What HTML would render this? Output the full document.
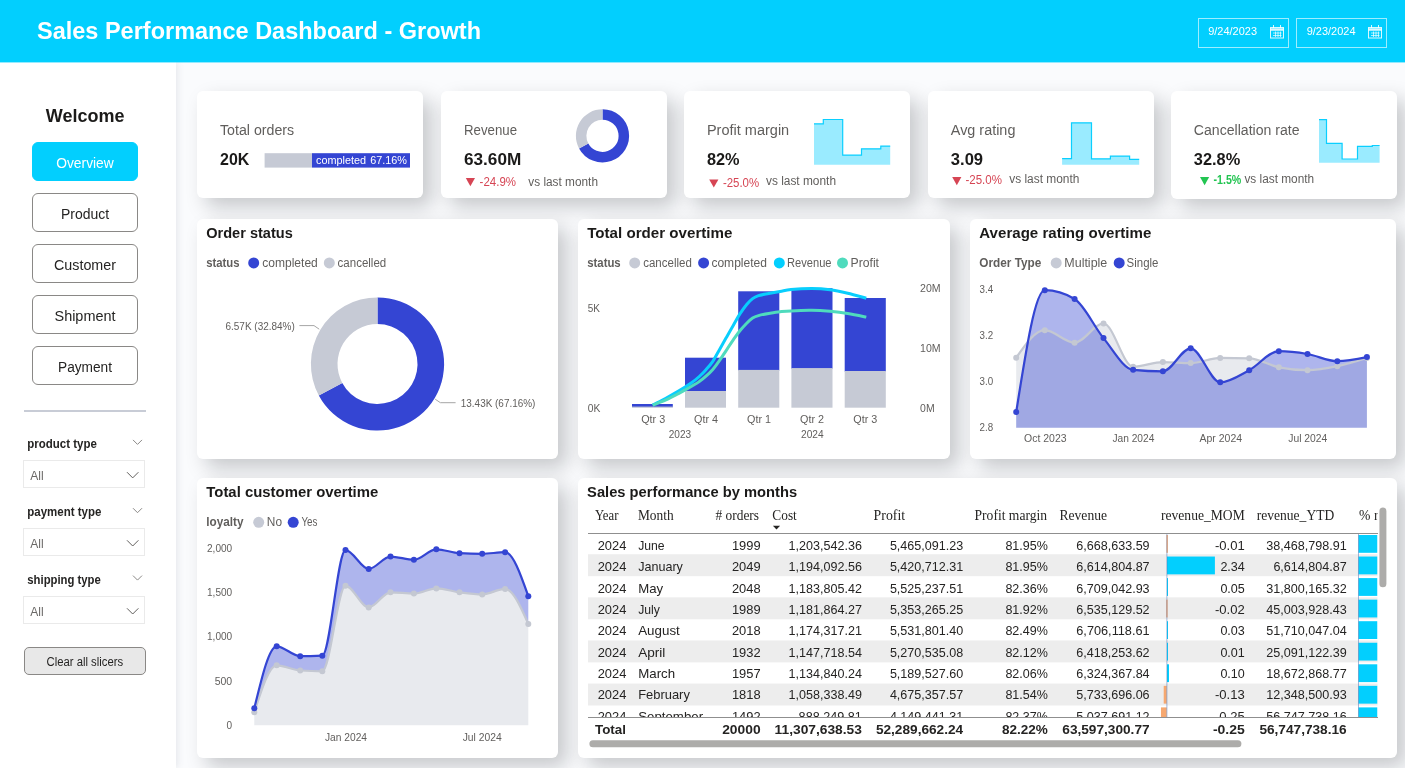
<!DOCTYPE html><html><head><meta charset="utf-8"><title>Sales Performance Dashboard - Growth</title><style>
*{box-sizing:border-box;margin:0;padding:0}
html,body{width:1405px;height:768px;overflow:hidden;background:#fafbfd;font-family:"Liberation Sans",sans-serif;color:#252423}
.abs{position:absolute}
#hdr{left:0;top:0;width:1405px;height:62px;background:#02cffe;z-index:2}
#side{left:0;top:62px;width:176px;height:706px;background:#fff;box-shadow:2px 0 6px rgba(100,105,120,.12)}
.card{position:absolute;background:#fff;border-radius:6px;box-shadow:9px 9px 20px rgba(10,12,20,.21)}
.btn{position:absolute;left:32px;width:106px;height:39px;border:1px solid #8a8886;border-radius:6px;background:#fff}
.btn.on{background:#02cffe;border-color:#02cffe;height:39px}
.dd{position:absolute;left:23px;width:122px;height:28px;border:1px solid #eaeaea;background:#fff}
#ov{position:absolute;left:0;top:0;overflow:visible;will-change:transform;z-index:3}
#ov text{font-family:"Liberation Sans",sans-serif;white-space:pre}
#ov text.sf{font-family:"Liberation Serif",serif}
</style></head><body>
<div id="hdr" class="abs"></div>
<div id="side" class="abs"></div>
<div class="abs" style="left:0;top:62px;width:1405px;height:1px;background:rgba(2,207,254,.42);z-index:2"></div>
<div class="abs" style="left:1197.5px;top:18px;width:91.5px;height:29.500px;border:1px solid rgba(255,255,255,.62);z-index:2"></div>
<div class="abs" style="left:1296px;top:18px;width:91px;height:29.500px;border:1px solid rgba(255,255,255,.62);z-index:2"></div>
<div class="btn on" style="top:142px"></div>
<div class="btn" style="top:193px"></div>
<div class="btn" style="top:244px"></div>
<div class="btn" style="top:295px"></div>
<div class="btn" style="top:346px"></div>
<div class="abs" style="left:24px;top:410px;width:122px;height:2px;background:#c8ccd6"></div>
<div class="dd" style="top:460px"></div>
<div class="dd" style="top:528px"></div>
<div class="dd" style="top:596px"></div>
<div class="abs" style="left:24px;top:647px;width:122px;height:28px;border:1px solid #8a8886;border-radius:5px;background:#e8e8e8"></div>
<div class="card" style="left:197px;top:91px;width:225.7px;height:107px"></div>
<div class="card" style="left:440.8px;top:91px;width:225.8px;height:107px"></div>
<div class="card" style="left:684.2px;top:91px;width:225.6px;height:107px"></div>
<div class="card" style="left:928px;top:91px;width:225.7px;height:107px"></div>
<div class="card" style="left:1171.25px;top:91px;width:225.5px;height:108px"></div>
<div class="card" style="left:197px;top:219px;width:361px;height:240px"></div>
<div class="card" style="left:578px;top:219px;width:372px;height:240px"></div>
<div class="card" style="left:970px;top:219px;width:426px;height:240px"></div>
<div class="card" style="left:197px;top:478px;width:361px;height:279.5px"></div>
<div class="card" style="left:578px;top:478px;width:819px;height:279.5px"></div>
<svg id="ov" width="1405" height="768" viewBox="0 0 1405 768"><text x="37" y="39.2" font-size="24" fill="#fff" font-weight="bold" textLength="444" lengthAdjust="spacingAndGlyphs">Sales Performance Dashboard - Growth</text>
<text x="1208.2" y="35.2" font-size="11" fill="#fff" textLength="48.8" lengthAdjust="spacingAndGlyphs">9/24/2023</text>
<g transform="translate(1270,25)" fill="none" stroke="#fff" stroke-opacity=".85"><rect x=".5" y="2.500" width="13" height="10.500"/><path d="M.5 4.500h13" stroke-width="2.500"/><path d="M3.500 0v3M10.500 0v3"/><path d="M3 8h8.500M3 10.500h8.500M5.500 6.500v5.500M8 6.500v5.500M10.500 6.500v5.500" stroke-opacity=".75" stroke-width=".9"/></g>
<text x="1306.7" y="35.2" font-size="11" fill="#fff" textLength="48.8" lengthAdjust="spacingAndGlyphs">9/23/2024</text>
<g transform="translate(1368,25)" fill="none" stroke="#fff" stroke-opacity=".85"><rect x=".5" y="2.500" width="13" height="10.500"/><path d="M.5 4.500h13" stroke-width="2.500"/><path d="M3.500 0v3M10.500 0v3"/><path d="M3 8h8.500M3 10.500h8.500M5.500 6.500v5.500M8 6.500v5.500M10.500 6.500v5.500" stroke-opacity=".75" stroke-width=".9"/></g>
<text x="85.2" y="122.3" font-size="18.67" fill="#1b1a19" font-weight="bold" text-anchor="middle" textLength="78.7" lengthAdjust="spacingAndGlyphs">Welcome</text>
<text x="85" y="167.6" font-size="14.67" fill="#fff" text-anchor="middle" textLength="57.6" lengthAdjust="spacingAndGlyphs">Overview</text>
<text x="85" y="218.6" font-size="14.67" fill="#252423" text-anchor="middle" textLength="48.2" lengthAdjust="spacingAndGlyphs">Product</text>
<text x="85" y="269.6" font-size="14.67" fill="#252423" text-anchor="middle" textLength="62" lengthAdjust="spacingAndGlyphs">Customer</text>
<text x="85" y="320.6" font-size="14.67" fill="#252423" text-anchor="middle" textLength="61" lengthAdjust="spacingAndGlyphs">Shipment</text>
<text x="85" y="371.6" font-size="14.67" fill="#252423" text-anchor="middle" textLength="54" lengthAdjust="spacingAndGlyphs">Payment</text>
<text x="27.3" y="447.9" font-size="12" fill="#252423" font-weight="bold" textLength="69.5" lengthAdjust="spacingAndGlyphs">product type</text>
<path d="M133,439.9l4.500 4.500 4.500-4.500" fill="none" stroke="#8a8886" stroke-width="1"/>
<text x="30.2" y="480" font-size="12.5" fill="#6b6967" textLength="13.4" lengthAdjust="spacingAndGlyphs">All</text>
<path d="M127,472.2l5.700 5.700 5.700-5.700" fill="none" stroke="#605e5c" stroke-width="1"/>
<text x="27.3" y="516.2" font-size="12" fill="#252423" font-weight="bold" textLength="74" lengthAdjust="spacingAndGlyphs">payment type</text>
<path d="M133,508.20000000000005l4.500 4.500 4.500-4.500" fill="none" stroke="#8a8886" stroke-width="1"/>
<text x="30.2" y="548.2" font-size="12.5" fill="#6b6967" textLength="13.4" lengthAdjust="spacingAndGlyphs">All</text>
<path d="M127,540.3l5.700 5.700 5.700-5.700" fill="none" stroke="#605e5c" stroke-width="1"/>
<text x="27.3" y="583.6" font-size="12" fill="#252423" font-weight="bold" textLength="73.5" lengthAdjust="spacingAndGlyphs">shipping type</text>
<path d="M133,575.6l4.500 4.500 4.500-4.500" fill="none" stroke="#8a8886" stroke-width="1"/>
<text x="30.2" y="616.2" font-size="12.5" fill="#6b6967" textLength="13.4" lengthAdjust="spacingAndGlyphs">All</text>
<path d="M127,608.3l5.700 5.700 5.700-5.700" fill="none" stroke="#605e5c" stroke-width="1"/>
<text x="84.8" y="665.5" font-size="12" fill="#252423" text-anchor="middle" textLength="76.6" lengthAdjust="spacingAndGlyphs">Clear all slicers</text>
<text x="220" y="135.2" font-size="14.67" fill="#605e5c" textLength="74.2" lengthAdjust="spacingAndGlyphs">Total orders</text>
<text x="220" y="164.8" font-size="17.33" fill="#1b1a19" font-weight="bold" textLength="29.3" lengthAdjust="spacingAndGlyphs">20K</text>
<rect x="264.600" y="153.200" width="47.500" height="14.400" fill="#c6cad5"/><rect x="312" y="153.200" width="98" height="14.400" fill="#3445d3"/>
<text x="316" y="164.3" font-size="11" fill="#fff" textLength="91" lengthAdjust="spacingAndGlyphs" word-spacing="1">completed 67.16%</text>
<text x="464" y="135.2" font-size="14.67" fill="#605e5c" textLength="53" lengthAdjust="spacingAndGlyphs">Revenue</text>
<text x="464" y="164.8" font-size="17.33" fill="#1b1a19" font-weight="bold" textLength="57.3" lengthAdjust="spacingAndGlyphs">63.60M</text>
<path d="M465.8,178h9.2l-4.6,8.2z" fill="#d64554"/>
<text x="479.6" y="186.3" font-size="12" fill="#d64554" textLength="36.4" lengthAdjust="spacingAndGlyphs">-24.9%</text>
<text x="528.3" y="186.3" font-size="12" fill="#605e5c" textLength="69.7" lengthAdjust="spacingAndGlyphs">vs last month</text>
<path d="M602.50,109.20A26.6,26.6 0 1 1 579.06,148.38L588.31,143.41A16.1,16.1 0 1 0 602.50,119.70Z" fill="#3445d3"/><path d="M579.06,148.38A26.6,26.6 0 0 1 602.50,109.20L602.50,119.70A16.1,16.1 0 0 0 588.31,143.41Z" fill="#c6cad5"/>
<text x="706.9" y="135.2" font-size="14.67" fill="#605e5c" textLength="82.3" lengthAdjust="spacingAndGlyphs">Profit margin</text>
<text x="707" y="164.8" font-size="17.33" fill="#1b1a19" font-weight="bold" textLength="32.6" lengthAdjust="spacingAndGlyphs">82%</text>
<path d="M709.2,179.4h9.2l-4.6,8.2z" fill="#d64554"/>
<text x="722.9" y="186.7" font-size="12" fill="#d64554" textLength="36.2" lengthAdjust="spacingAndGlyphs">-25.0%</text>
<text x="766" y="184.8" font-size="12" fill="#605e5c" textLength="70" lengthAdjust="spacingAndGlyphs">vs last month</text>
<path d="M814,123.8H823.3V119.5H842.7V155.1H861.5V148.8H880.8V146.1H890.2V164.8H814Z" fill="#9aebff"/><path d="M814,123.8H823.3V119.5H842.7V155.1H861.5V148.8H880.8V146.1H890.2" fill="none" stroke="#0acfff" stroke-width="1.200"/>
<text x="950.8" y="135.2" font-size="14.67" fill="#605e5c" textLength="64.6" lengthAdjust="spacingAndGlyphs">Avg rating</text>
<text x="950.8" y="164.8" font-size="17.33" fill="#1b1a19" font-weight="bold" textLength="32.3" lengthAdjust="spacingAndGlyphs">3.09</text>
<path d="M952.2,177h9.2l-4.6,8.2z" fill="#d64554"/>
<text x="965.4" y="184.2" font-size="12" fill="#d64554" textLength="36.5" lengthAdjust="spacingAndGlyphs">-25.0%</text>
<text x="1009.2" y="182.7" font-size="12" fill="#605e5c" textLength="70.2" lengthAdjust="spacingAndGlyphs">vs last month</text>
<path d="M1062.1,158.6H1071.5V122.8H1091.5V158.8H1110.4V156.1H1129.6V159.3H1139.2V164.8H1062.1Z" fill="#9aebff"/><path d="M1062.1,158.6H1071.5V122.8H1091.5V158.8H1110.4V156.1H1129.6V159.3H1139.2" fill="none" stroke="#0acfff" stroke-width="1.200"/>
<text x="1193.8" y="135.2" font-size="14.67" fill="#605e5c" textLength="105.8" lengthAdjust="spacingAndGlyphs">Cancellation rate</text>
<text x="1193.8" y="164.8" font-size="17.33" fill="#1b1a19" font-weight="bold" textLength="46.4" lengthAdjust="spacingAndGlyphs">32.8%</text>
<path d="M1200,177h9.2l-4.6,8.2z" fill="#23c552"/>
<text x="1213.5" y="184.2" font-size="12" fill="#23c552" font-weight="bold" textLength="27.8" lengthAdjust="spacingAndGlyphs">-1.5%</text>
<text x="1244.4" y="182.7" font-size="12" fill="#605e5c" textLength="69.8" lengthAdjust="spacingAndGlyphs">vs last month</text>
<path d="M1319,119.7H1326.5V143.4H1342.1V159H1357.5V146.3H1372.3V145.5H1379.6V162.7H1319Z" fill="#9aebff"/><path d="M1319,119.7H1326.5V143.4H1342.1V159H1357.5V146.3H1372.3V145.5H1379.6" fill="none" stroke="#0acfff" stroke-width="1.200"/>
<text x="206.2" y="237.5" font-size="14.67" fill="#1b1a19" font-weight="bold" textLength="86.6" lengthAdjust="spacingAndGlyphs">Order status</text>
<text x="206.2" y="266.6" font-size="12" fill="#605e5c" font-weight="bold" textLength="33.3" lengthAdjust="spacingAndGlyphs">status</text>
<circle cx="253.7" cy="262.9" r="5.500" fill="#3445d3"/>
<text x="262.2" y="266.6" font-size="12" fill="#605e5c" textLength="55.6" lengthAdjust="spacingAndGlyphs">completed</text>
<circle cx="329.3" cy="262.9" r="5.500" fill="#c6cad5"/>
<text x="337.6" y="266.6" font-size="12" fill="#605e5c" textLength="48.6" lengthAdjust="spacingAndGlyphs">cancelled</text>
<path d="M377.50,297.40A66.6,66.6 0 1 1 318.82,395.50L342.26,382.92A40,40 0 1 0 377.50,324.00Z" fill="#3445d3"/><path d="M318.82,395.50A66.6,66.6 0 0 1 377.50,297.40L377.50,324.00A40,40 0 0 0 342.26,382.92Z" fill="#c6cad5"/>
<text x="225.5" y="330.4" font-size="11" fill="#605e5c" textLength="69.3" lengthAdjust="spacingAndGlyphs">6.57K (32.84%)</text>
<text x="460.8" y="407.3" font-size="11" fill="#605e5c" textLength="74.6" lengthAdjust="spacingAndGlyphs">13.43K (67.16%)</text>
<path d="M299.400,325.600H314L319.200,329.200M435.200,399.200L440.400,402.700H455.600" fill="none" stroke="#a6a6a6" stroke-width="1"/>
<text x="587.2" y="237.5" font-size="14.67" fill="#1b1a19" font-weight="bold" textLength="145.2" lengthAdjust="spacingAndGlyphs">Total order overtime</text>
<text x="587.2" y="266.6" font-size="12" fill="#605e5c" font-weight="bold" textLength="33.5" lengthAdjust="spacingAndGlyphs">status</text>
<circle cx="634.7" cy="262.9" r="5.500" fill="#c6cad5"/>
<text x="643.2" y="266.6" font-size="12" fill="#605e5c" textLength="48.6" lengthAdjust="spacingAndGlyphs">cancelled</text>
<circle cx="703.6" cy="262.9" r="5.500" fill="#3445d3"/>
<text x="711.4" y="266.6" font-size="12" fill="#605e5c" textLength="55.6" lengthAdjust="spacingAndGlyphs">completed</text>
<circle cx="779.3" cy="262.9" r="5.500" fill="#02cffe"/>
<text x="787" y="266.6" font-size="12" fill="#605e5c" textLength="44.5" lengthAdjust="spacingAndGlyphs">Revenue</text>
<circle cx="842.5" cy="262.9" r="5.500" fill="#4fdbbd"/>
<text x="850.5" y="266.6" font-size="12" fill="#605e5c" textLength="28.5" lengthAdjust="spacingAndGlyphs">Profit</text>
<rect x="632" y="404" width="40.8" height="3.2" fill="#3445d3"/><rect x="632" y="406.6" width="40.8" height="1.1" fill="#c6cad5"/>
<rect x="685" y="357.7" width="41" height="33.9" fill="#3445d3"/><rect x="685" y="391" width="41" height="16.7" fill="#c6cad5"/>
<rect x="738.2" y="291.3" width="41.1" height="79.2" fill="#3445d3"/><rect x="738.2" y="369.9" width="41.1" height="37.8" fill="#c6cad5"/>
<rect x="791.4" y="288.2" width="41.1" height="80.5" fill="#3445d3"/><rect x="791.4" y="368.1" width="41.1" height="39.6" fill="#c6cad5"/>
<rect x="844.7" y="298" width="41.1" height="73.6" fill="#3445d3"/><rect x="844.7" y="371" width="41.1" height="36.7" fill="#c6cad5"/>
<path d="M652.7,404.9C654.8,403.8 661.0,400.8 665.4,398.5C669.8,396.2 674.7,393.4 678.9,390.9C683.1,388.4 687.4,385.7 690.8,383.3C694.2,380.9 696.8,378.8 699.3,376.5C701.8,374.2 703.8,372.2 706.0,369.7C708.2,367.2 710.5,364.7 712.8,361.3C715.1,357.9 717.4,353.3 719.6,349.4C721.9,345.4 724.0,341.6 726.3,337.6C728.5,333.7 730.8,329.6 733.1,325.7C735.4,321.8 737.6,317.4 739.9,313.9C742.2,310.4 744.6,307.1 746.7,304.5C748.8,301.9 750.6,300.1 752.6,298.6C754.6,297.1 755.8,296.5 758.5,295.6C761.2,294.8 765.1,294.2 768.7,293.5C772.3,292.8 776.3,292.1 780.0,291.5C783.7,290.9 785.7,290.1 791.0,289.6C796.3,289.1 805.1,288.6 811.6,288.6C818.1,288.6 824.1,289.0 830.1,289.8C836.1,290.6 841.7,291.9 847.7,293.3C853.7,294.7 863.2,297.4 866.3,298.2" fill="none" stroke="#08cefd" stroke-width="3"/>
<path d="M652.7,405.3C654.8,404.4 661.0,402.2 665.4,400.2C669.8,398.2 674.7,395.6 678.9,393.4C683.1,391.1 687.4,388.7 690.8,386.7C694.2,384.7 696.8,383.4 699.3,381.6C701.8,379.9 703.8,378.2 706.0,376.2C708.2,374.2 710.5,372.0 712.8,369.4C715.1,366.8 717.4,363.6 719.6,360.4C721.9,357.2 724.0,353.7 726.3,350.3C728.5,346.9 730.8,343.4 733.1,340.1C735.4,336.9 737.6,333.6 739.9,330.8C742.2,328.0 744.6,325.3 746.7,323.2C748.8,321.1 750.6,319.4 752.6,318.1C754.6,316.8 755.8,316.4 758.5,315.6C761.2,314.8 765.1,314.1 768.7,313.5C772.3,312.9 776.3,312.2 780.0,311.8C783.7,311.4 785.7,311.1 791.0,310.9C796.3,310.6 805.1,310.2 811.6,310.3C818.1,310.4 824.1,310.8 830.1,311.3C836.1,311.9 841.7,312.6 847.7,313.6C853.7,314.6 863.2,316.5 866.3,317.1" fill="none" stroke="#4fdbbd" stroke-width="3"/>
<text x="587.7" y="312" font-size="11" fill="#605e5c" textLength="12.2" lengthAdjust="spacingAndGlyphs">5K</text>
<text x="587.7" y="412" font-size="11" fill="#605e5c" textLength="12.6" lengthAdjust="spacingAndGlyphs">0K</text>
<text x="920.1" y="292.2" font-size="11" fill="#605e5c" textLength="20.6" lengthAdjust="spacingAndGlyphs">20M</text>
<text x="920.1" y="352.2" font-size="11" fill="#605e5c" textLength="20.6" lengthAdjust="spacingAndGlyphs">10M</text>
<text x="920.1" y="412.3" font-size="11" fill="#605e5c" textLength="14.5" lengthAdjust="spacingAndGlyphs">0M</text>
<text x="653.2" y="423" font-size="11" fill="#605e5c" text-anchor="middle" textLength="24" lengthAdjust="spacingAndGlyphs">Qtr 3</text>
<text x="706" y="423" font-size="11" fill="#605e5c" text-anchor="middle" textLength="24" lengthAdjust="spacingAndGlyphs">Qtr 4</text>
<text x="759" y="423" font-size="11" fill="#605e5c" text-anchor="middle" textLength="24" lengthAdjust="spacingAndGlyphs">Qtr 1</text>
<text x="812" y="423" font-size="11" fill="#605e5c" text-anchor="middle" textLength="24" lengthAdjust="spacingAndGlyphs">Qtr 2</text>
<text x="865.3" y="423" font-size="11" fill="#605e5c" text-anchor="middle" textLength="24" lengthAdjust="spacingAndGlyphs">Qtr 3</text>
<text x="679.9" y="437.7" font-size="11" fill="#605e5c" text-anchor="middle" textLength="22.4" lengthAdjust="spacingAndGlyphs">2023</text>
<text x="812.3" y="437.7" font-size="11" fill="#605e5c" text-anchor="middle" textLength="22.6" lengthAdjust="spacingAndGlyphs">2024</text>
<text x="979.3" y="237.5" font-size="14.67" fill="#1b1a19" font-weight="bold" textLength="172" lengthAdjust="spacingAndGlyphs">Average rating overtime</text>
<text x="979.3" y="266.6" font-size="12" fill="#605e5c" font-weight="bold" textLength="62" lengthAdjust="spacingAndGlyphs">Order Type</text>
<circle cx="1056.2" cy="262.9" r="5.500" fill="#c6cad5"/>
<text x="1064.3" y="266.6" font-size="12" fill="#605e5c" textLength="43" lengthAdjust="spacingAndGlyphs">Multiple</text>
<circle cx="1119.2" cy="262.9" r="5.500" fill="#3445d3"/>
<text x="1126.6" y="266.6" font-size="12" fill="#605e5c" textLength="31.8" lengthAdjust="spacingAndGlyphs">Single</text>
<path d="M1016.2,357.7C1025.8,343.9 1035.3,330.2 1044.8,330.2C1054.7,330.2 1064.7,342.7 1074.6,342.7C1084.2,342.7 1093.9,323.5 1103.5,323.5C1113.4,323.5 1123.2,366.7 1133.1,366.7C1143.0,366.7 1153.0,362.1 1162.9,362.1C1172.2,362.1 1181.4,363.1 1190.7,363.1C1200.5,363.1 1210.4,357.9 1220.2,357.9C1229.9,357.9 1239.5,358.0 1249.2,358.3C1259.0,358.6 1268.9,365.3 1278.8,367.3C1288.3,369.2 1297.9,370.2 1307.5,370.2C1317.4,370.2 1327.4,368.3 1337.3,366.2C1347.2,364.2 1357.0,361.1 1366.9,358.0L1366.9,427.7L1016.2,427.7Z" fill="#c6cad5" fill-opacity="0.4"/>
<path d="M1016.2,412.1C1025.8,351.1 1035.3,290.2 1044.8,290.2C1054.7,290.2 1064.7,293.1 1074.6,299.0C1084.2,304.7 1093.9,326.4 1103.5,338.1C1113.4,350.1 1123.2,368.8 1133.1,369.8C1143.0,370.8 1153.0,371.3 1162.9,371.3C1172.2,371.3 1181.4,348.3 1190.7,348.3C1200.5,348.3 1210.4,382.3 1220.2,382.3C1229.9,382.3 1239.5,375.3 1249.2,370.2C1259.0,365.0 1268.9,351.2 1278.8,351.2C1288.3,351.2 1297.9,352.4 1307.5,354.0C1317.4,355.7 1327.4,361.2 1337.3,361.2C1347.2,361.2 1357.0,359.2 1366.9,357.1L1366.9,427.7L1016.2,427.7Z" fill="#3445d3" fill-opacity="0.4"/>
<path d="M1016.2,357.7C1025.8,343.9 1035.3,330.2 1044.8,330.2C1054.7,330.2 1064.7,342.7 1074.6,342.7C1084.2,342.7 1093.9,323.5 1103.5,323.5C1113.4,323.5 1123.2,366.7 1133.1,366.7C1143.0,366.7 1153.0,362.1 1162.9,362.1C1172.2,362.1 1181.4,363.1 1190.7,363.1C1200.5,363.1 1210.4,357.9 1220.2,357.9C1229.9,357.9 1239.5,358.0 1249.2,358.3C1259.0,358.6 1268.9,365.3 1278.8,367.3C1288.3,369.2 1297.9,370.2 1307.5,370.2C1317.4,370.2 1327.4,368.3 1337.3,366.2C1347.2,364.2 1357.0,361.1 1366.9,358.0" fill="none" stroke="#c4c8d2" stroke-width="2.2" stroke-linejoin="round"/>
<g fill="#c4c8d2"><circle cx="1016.2" cy="357.7" r="3"/><circle cx="1044.8" cy="330.2" r="3"/><circle cx="1074.6" cy="342.7" r="3"/><circle cx="1103.5" cy="323.5" r="3"/><circle cx="1133.1" cy="366.7" r="3"/><circle cx="1162.9" cy="362.1" r="3"/><circle cx="1190.7" cy="363.1" r="3"/><circle cx="1220.2" cy="357.9" r="3"/><circle cx="1249.2" cy="358.3" r="3"/><circle cx="1278.8" cy="367.3" r="3"/><circle cx="1307.5" cy="370.2" r="3"/><circle cx="1337.3" cy="366.2" r="3"/><circle cx="1366.9" cy="358.0" r="3"/></g>
<path d="M1016.2,412.1C1025.8,351.1 1035.3,290.2 1044.8,290.2C1054.7,290.2 1064.7,293.1 1074.6,299.0C1084.2,304.7 1093.9,326.4 1103.5,338.1C1113.4,350.1 1123.2,368.8 1133.1,369.8C1143.0,370.8 1153.0,371.3 1162.9,371.3C1172.2,371.3 1181.4,348.3 1190.7,348.3C1200.5,348.3 1210.4,382.3 1220.2,382.3C1229.9,382.3 1239.5,375.3 1249.2,370.2C1259.0,365.0 1268.9,351.2 1278.8,351.2C1288.3,351.2 1297.9,352.4 1307.5,354.0C1317.4,355.7 1327.4,361.2 1337.3,361.2C1347.2,361.2 1357.0,359.2 1366.9,357.1" fill="none" stroke="#3445d3" stroke-width="2.2" stroke-linejoin="round"/>
<g fill="#3445d3"><circle cx="1016.2" cy="412.1" r="3"/><circle cx="1044.8" cy="290.2" r="3"/><circle cx="1074.6" cy="299.0" r="3"/><circle cx="1103.5" cy="338.1" r="3"/><circle cx="1133.1" cy="369.8" r="3"/><circle cx="1162.9" cy="371.3" r="3"/><circle cx="1190.7" cy="348.3" r="3"/><circle cx="1220.2" cy="382.3" r="3"/><circle cx="1249.2" cy="370.2" r="3"/><circle cx="1278.8" cy="351.2" r="3"/><circle cx="1307.5" cy="354.0" r="3"/><circle cx="1337.3" cy="361.2" r="3"/><circle cx="1366.9" cy="357.1" r="3"/></g>
<text x="979.6" y="292.9" font-size="11" fill="#605e5c" textLength="13.6" lengthAdjust="spacingAndGlyphs">3.4</text>
<text x="979.6" y="339" font-size="11" fill="#605e5c" textLength="13.6" lengthAdjust="spacingAndGlyphs">3.2</text>
<text x="979.6" y="385" font-size="11" fill="#605e5c" textLength="13.6" lengthAdjust="spacingAndGlyphs">3.0</text>
<text x="979.6" y="430.7" font-size="11" fill="#605e5c" textLength="13.6" lengthAdjust="spacingAndGlyphs">2.8</text>
<text x="1045.3" y="442" font-size="11" fill="#605e5c" text-anchor="middle" textLength="42.5" lengthAdjust="spacingAndGlyphs">Oct 2023</text>
<text x="1133.4" y="442" font-size="11" fill="#605e5c" text-anchor="middle" textLength="42" lengthAdjust="spacingAndGlyphs">Jan 2024</text>
<text x="1220.8" y="442" font-size="11" fill="#605e5c" text-anchor="middle" textLength="42.5" lengthAdjust="spacingAndGlyphs">Apr 2024</text>
<text x="1307.8" y="442" font-size="11" fill="#605e5c" text-anchor="middle" textLength="39" lengthAdjust="spacingAndGlyphs">Jul 2024</text>
<text x="206.3" y="497.2" font-size="14.67" fill="#1b1a19" font-weight="bold" textLength="172" lengthAdjust="spacingAndGlyphs">Total customer overtime</text>
<text x="206.3" y="526" font-size="12" fill="#605e5c" font-weight="bold" textLength="37.2" lengthAdjust="spacingAndGlyphs">loyalty</text>
<circle cx="258.7" cy="522.3" r="5.500" fill="#c6cad5"/>
<text x="266.8" y="526" font-size="12" fill="#605e5c" textLength="15.2" lengthAdjust="spacingAndGlyphs">No</text>
<circle cx="293.2" cy="522.3" r="5.500" fill="#3445d3"/>
<text x="301.4" y="526" font-size="12" fill="#605e5c" textLength="16" lengthAdjust="spacingAndGlyphs">Yes</text>
<path d="M254.3,712.2C261.8,688.8 269.2,665.3 276.7,665.3C284.5,665.3 292.4,669.9 300.2,670.5C307.6,671.0 314.9,671.3 322.3,671.3C330.0,671.3 337.8,585.8 345.5,585.8C353.2,585.8 361.0,607.4 368.7,607.4C376.0,607.4 383.2,592.3 390.5,592.3C398.3,592.3 406.1,593.6 413.9,593.6C421.4,593.6 428.8,588.4 436.3,588.4C444.0,588.4 451.8,591.3 459.5,592.3C467.1,593.3 474.6,594.4 482.2,594.4C489.8,594.4 497.5,588.9 505.1,588.9C512.8,588.9 520.6,606.4 528.3,623.9L528.3,725.2L254.3,725.2Z" fill="#c6cad5" fill-opacity="0.4"/>
<path d="M254.3,708.3C261.8,677.3 269.2,646.3 276.7,646.3C284.5,646.3 292.4,656.2 300.2,656.2C307.6,656.2 314.9,656.0 322.3,655.7C330.0,655.4 337.8,550.1 345.5,550.1C353.2,550.1 361.0,568.9 368.7,568.9C376.0,568.9 383.2,556.6 390.5,556.6C398.3,556.6 406.1,559.8 413.9,559.8C421.4,559.8 428.8,549.3 436.3,549.3C444.0,549.3 451.8,552.8 459.5,553.2C467.1,553.6 474.6,553.8 482.2,553.8C489.8,553.8 497.5,552.2 505.1,552.2C512.8,552.2 520.6,574.2 528.3,596.2L528.3,623.9C520.6,606.4 512.8,588.9 505.1,588.9C497.5,588.9 489.8,594.4 482.2,594.4C474.6,594.4 467.1,593.3 459.5,592.3C451.8,591.3 444.0,588.4 436.3,588.4C428.8,588.4 421.4,593.6 413.9,593.6C406.1,593.6 398.3,592.3 390.5,592.3C383.2,592.3 376.0,607.4 368.7,607.4C361.0,607.4 353.2,585.8 345.5,585.8C337.8,585.8 330.0,671.3 322.3,671.3C314.9,671.3 307.6,671.0 300.2,670.5C292.4,669.9 284.5,665.3 276.7,665.3C269.2,665.3 261.8,688.8 254.3,712.2Z" fill="#3445d3" fill-opacity=".4"/>
<path d="M254.3,712.2C261.8,688.8 269.2,665.3 276.7,665.3C284.5,665.3 292.4,669.9 300.2,670.5C307.6,671.0 314.9,671.3 322.3,671.3C330.0,671.3 337.8,585.8 345.5,585.8C353.2,585.8 361.0,607.4 368.7,607.4C376.0,607.4 383.2,592.3 390.5,592.3C398.3,592.3 406.1,593.6 413.9,593.6C421.4,593.6 428.8,588.4 436.3,588.4C444.0,588.4 451.8,591.3 459.5,592.3C467.1,593.3 474.6,594.4 482.2,594.4C489.8,594.4 497.5,588.9 505.1,588.9C512.8,588.9 520.6,606.4 528.3,623.9" fill="none" stroke="#c4c8d2" stroke-width="2.2" stroke-linejoin="round"/>
<g fill="#c4c8d2"><circle cx="254.3" cy="712.2" r="3"/><circle cx="276.7" cy="665.3" r="3"/><circle cx="300.2" cy="670.5" r="3"/><circle cx="322.3" cy="671.3" r="3"/><circle cx="345.5" cy="585.8" r="3"/><circle cx="368.7" cy="607.4" r="3"/><circle cx="390.5" cy="592.3" r="3"/><circle cx="413.9" cy="593.6" r="3"/><circle cx="436.3" cy="588.4" r="3"/><circle cx="459.5" cy="592.3" r="3"/><circle cx="482.2" cy="594.4" r="3"/><circle cx="505.1" cy="588.9" r="3"/><circle cx="528.3" cy="623.9" r="3"/></g>
<path d="M254.3,708.3C261.8,677.3 269.2,646.3 276.7,646.3C284.5,646.3 292.4,656.2 300.2,656.2C307.6,656.2 314.9,656.0 322.3,655.7C330.0,655.4 337.8,550.1 345.5,550.1C353.2,550.1 361.0,568.9 368.7,568.9C376.0,568.9 383.2,556.6 390.5,556.6C398.3,556.6 406.1,559.8 413.9,559.8C421.4,559.8 428.8,549.3 436.3,549.3C444.0,549.3 451.8,552.8 459.5,553.2C467.1,553.6 474.6,553.8 482.2,553.8C489.8,553.8 497.5,552.2 505.1,552.2C512.8,552.2 520.6,574.2 528.3,596.2" fill="none" stroke="#3445d3" stroke-width="2.2" stroke-linejoin="round"/>
<g fill="#3445d3"><circle cx="254.3" cy="708.3" r="3"/><circle cx="276.7" cy="646.3" r="3"/><circle cx="300.2" cy="656.2" r="3"/><circle cx="322.3" cy="655.7" r="3"/><circle cx="345.5" cy="550.1" r="3"/><circle cx="368.7" cy="568.9" r="3"/><circle cx="390.5" cy="556.6" r="3"/><circle cx="413.9" cy="559.8" r="3"/><circle cx="436.3" cy="549.3" r="3"/><circle cx="459.5" cy="553.2" r="3"/><circle cx="482.2" cy="553.8" r="3"/><circle cx="505.1" cy="552.2" r="3"/><circle cx="528.3" cy="596.2" r="3"/></g>
<text x="232.2" y="552.2" font-size="11" fill="#605e5c" text-anchor="end" textLength="25.2" lengthAdjust="spacingAndGlyphs">2,000</text>
<text x="232.2" y="596" font-size="11" fill="#605e5c" text-anchor="end" textLength="25.2" lengthAdjust="spacingAndGlyphs">1,500</text>
<text x="232.2" y="640.1" font-size="11" fill="#605e5c" text-anchor="end" textLength="25.2" lengthAdjust="spacingAndGlyphs">1,000</text>
<text x="232.2" y="684.7" font-size="11" fill="#605e5c" text-anchor="end" textLength="17.5" lengthAdjust="spacingAndGlyphs">500</text>
<text x="232.2" y="729.1" font-size="11" fill="#605e5c" text-anchor="end" textLength="5.6" lengthAdjust="spacingAndGlyphs">0</text>
<text x="346" y="740.5" font-size="11" fill="#605e5c" text-anchor="middle" textLength="42" lengthAdjust="spacingAndGlyphs">Jan 2024</text>
<text x="482.2" y="740.5" font-size="11" fill="#605e5c" text-anchor="middle" textLength="39" lengthAdjust="spacingAndGlyphs">Jul 2024</text>
<text x="587.1" y="497.2" font-size="14.67" fill="#1b1a19" font-weight="bold" textLength="210" lengthAdjust="spacingAndGlyphs">Sales performance by months</text>
<clipPath id="tc"><rect x="588" y="505" width="789.500" height="212.500"/></clipPath><g clip-path="url(#tc)">
<rect x="588" y="554.25" width="790" height="21.95" fill="#ededed"/>
<rect x="588" y="597.35" width="790" height="21.95" fill="#ededed"/>
<rect x="588" y="640.45" width="790" height="21.95" fill="#ededed"/>
<rect x="588" y="683.55" width="790" height="21.95" fill="#ededed"/>
<text x="594.9" y="520" font-size="14" fill="#252423" textLength="23.5" lengthAdjust="spacingAndGlyphs" class="sf">Year</text>
<text x="637.9" y="520" font-size="14" fill="#252423" textLength="35.7" lengthAdjust="spacingAndGlyphs" class="sf">Month</text>
<text x="715.5" y="520" font-size="14" fill="#252423" textLength="43.5" lengthAdjust="spacingAndGlyphs" class="sf"># orders</text>
<text x="772.3" y="520" font-size="14" fill="#252423" textLength="24.5" lengthAdjust="spacingAndGlyphs" class="sf">Cost</text>
<text x="873.6" y="520" font-size="14" fill="#252423" textLength="31.5" lengthAdjust="spacingAndGlyphs" class="sf">Profit</text>
<text x="974.5" y="520" font-size="14" fill="#252423" textLength="72.6" lengthAdjust="spacingAndGlyphs" class="sf">Profit margin</text>
<text x="1059.5" y="520" font-size="14" fill="#252423" textLength="47.5" lengthAdjust="spacingAndGlyphs" class="sf">Revenue</text>
<text x="1161" y="520" font-size="14" fill="#252423" textLength="83.7" lengthAdjust="spacingAndGlyphs" class="sf">revenue_MOM</text>
<text x="1256.8" y="520" font-size="14" fill="#252423" textLength="77.4" lengthAdjust="spacingAndGlyphs" class="sf">revenue_YTD</text>
<text x="1359.1" y="520" font-size="14" fill="#252423" textLength="58" lengthAdjust="spacingAndGlyphs" class="sf">% revenue</text>
<path d="M772.900,525.800h7.200l-3.600,3.600z" fill="#252423"/>
<text x="597.7" y="549.8" font-size="13.4" fill="#252423" textLength="28.7" lengthAdjust="spacingAndGlyphs">2024</text>
<text x="638.2" y="549.8" font-size="13.4" fill="#252423" textLength="26.4" lengthAdjust="spacingAndGlyphs">June</text>
<rect x="1166.47" y="535.00" width="1.40" height="17.800" fill="#f6a870"/>
<rect x="1358.500" y="535.00" width="19" height="17.800" fill="#02cffe"/>
<text x="760.6" y="549.8" font-size="13.4" fill="#252423" text-anchor="end" textLength="28.7" lengthAdjust="spacingAndGlyphs">1999</text>
<text x="861.9" y="549.8" font-size="13.4" fill="#252423" text-anchor="end" textLength="73.3" lengthAdjust="spacingAndGlyphs">1,203,542.36</text>
<text x="963.2" y="549.8" font-size="13.4" fill="#252423" text-anchor="end" textLength="73.3" lengthAdjust="spacingAndGlyphs">5,465,091.23</text>
<text x="1047.9" y="549.8" font-size="13.4" fill="#252423" text-anchor="end" textLength="42.5" lengthAdjust="spacingAndGlyphs">81.95%</text>
<text x="1149.6" y="549.8" font-size="13.4" fill="#252423" text-anchor="end" textLength="73.3" lengthAdjust="spacingAndGlyphs">6,668,633.59</text>
<text x="1244.8" y="549.8" font-size="13.4" fill="#252423" text-anchor="end" textLength="29.8" lengthAdjust="spacingAndGlyphs">-0.01</text>
<text x="1346.7" y="549.8" font-size="13.4" fill="#252423" text-anchor="end" textLength="80.5" lengthAdjust="spacingAndGlyphs">38,468,798.91</text>
<text x="597.7" y="571.17" font-size="13.4" fill="#252423" textLength="28.7" lengthAdjust="spacingAndGlyphs">2024</text>
<text x="638.2" y="571.17" font-size="13.4" fill="#252423" textLength="44.7" lengthAdjust="spacingAndGlyphs">January</text>
<rect x="1167" y="556.55" width="47.9" height="17.800" fill="#02cffe"/>
<rect x="1358.500" y="556.55" width="19" height="17.800" fill="#02cffe"/>
<text x="760.6" y="571.17" font-size="13.4" fill="#252423" text-anchor="end" textLength="28.7" lengthAdjust="spacingAndGlyphs">2049</text>
<text x="861.9" y="571.17" font-size="13.4" fill="#252423" text-anchor="end" textLength="73.3" lengthAdjust="spacingAndGlyphs">1,194,092.56</text>
<text x="963.2" y="571.17" font-size="13.4" fill="#252423" text-anchor="end" textLength="73.3" lengthAdjust="spacingAndGlyphs">5,420,712.31</text>
<text x="1047.9" y="571.17" font-size="13.4" fill="#252423" text-anchor="end" textLength="42.5" lengthAdjust="spacingAndGlyphs">81.95%</text>
<text x="1149.6" y="571.17" font-size="13.4" fill="#252423" text-anchor="end" textLength="73.3" lengthAdjust="spacingAndGlyphs">6,614,804.87</text>
<text x="1244.8" y="571.17" font-size="13.4" fill="#252423" text-anchor="end" textLength="24.4" lengthAdjust="spacingAndGlyphs">2.34</text>
<text x="1346.7" y="571.17" font-size="13.4" fill="#252423" text-anchor="end" textLength="73.3" lengthAdjust="spacingAndGlyphs">6,614,804.87</text>
<text x="597.7" y="592.54" font-size="13.4" fill="#252423" textLength="28.7" lengthAdjust="spacingAndGlyphs">2024</text>
<text x="638.2" y="592.54" font-size="13.4" fill="#252423" textLength="24.9" lengthAdjust="spacingAndGlyphs">May</text>
<rect x="1167" y="578.10" width="1.0" height="17.800" fill="#02cffe"/>
<rect x="1358.500" y="578.10" width="19" height="17.800" fill="#02cffe"/>
<text x="760.6" y="592.54" font-size="13.4" fill="#252423" text-anchor="end" textLength="28.7" lengthAdjust="spacingAndGlyphs">2048</text>
<text x="861.9" y="592.54" font-size="13.4" fill="#252423" text-anchor="end" textLength="73.3" lengthAdjust="spacingAndGlyphs">1,183,805.42</text>
<text x="963.2" y="592.54" font-size="13.4" fill="#252423" text-anchor="end" textLength="73.3" lengthAdjust="spacingAndGlyphs">5,525,237.51</text>
<text x="1047.9" y="592.54" font-size="13.4" fill="#252423" text-anchor="end" textLength="42.5" lengthAdjust="spacingAndGlyphs">82.36%</text>
<text x="1149.6" y="592.54" font-size="13.4" fill="#252423" text-anchor="end" textLength="73.3" lengthAdjust="spacingAndGlyphs">6,709,042.93</text>
<text x="1244.8" y="592.54" font-size="13.4" fill="#252423" text-anchor="end" textLength="24.4" lengthAdjust="spacingAndGlyphs">0.05</text>
<text x="1346.7" y="592.54" font-size="13.4" fill="#252423" text-anchor="end" textLength="80.5" lengthAdjust="spacingAndGlyphs">31,800,165.32</text>
<text x="597.7" y="613.91" font-size="13.4" fill="#252423" textLength="28.7" lengthAdjust="spacingAndGlyphs">2024</text>
<text x="638.2" y="613.91" font-size="13.4" fill="#252423" textLength="21.7" lengthAdjust="spacingAndGlyphs">July</text>
<rect x="1166.24" y="599.65" width="1.40" height="17.800" fill="#f6a870"/>
<rect x="1358.500" y="599.65" width="19" height="17.800" fill="#02cffe"/>
<text x="760.6" y="613.91" font-size="13.4" fill="#252423" text-anchor="end" textLength="28.7" lengthAdjust="spacingAndGlyphs">1989</text>
<text x="861.9" y="613.91" font-size="13.4" fill="#252423" text-anchor="end" textLength="73.3" lengthAdjust="spacingAndGlyphs">1,181,864.27</text>
<text x="963.2" y="613.91" font-size="13.4" fill="#252423" text-anchor="end" textLength="73.3" lengthAdjust="spacingAndGlyphs">5,353,265.25</text>
<text x="1047.9" y="613.91" font-size="13.4" fill="#252423" text-anchor="end" textLength="42.5" lengthAdjust="spacingAndGlyphs">81.92%</text>
<text x="1149.6" y="613.91" font-size="13.4" fill="#252423" text-anchor="end" textLength="73.3" lengthAdjust="spacingAndGlyphs">6,535,129.52</text>
<text x="1244.8" y="613.91" font-size="13.4" fill="#252423" text-anchor="end" textLength="29.8" lengthAdjust="spacingAndGlyphs">-0.02</text>
<text x="1346.7" y="613.91" font-size="13.4" fill="#252423" text-anchor="end" textLength="80.5" lengthAdjust="spacingAndGlyphs">45,003,928.43</text>
<text x="597.7" y="635.28" font-size="13.4" fill="#252423" textLength="28.7" lengthAdjust="spacingAndGlyphs">2024</text>
<text x="638.2" y="635.28" font-size="13.4" fill="#252423" textLength="41.6" lengthAdjust="spacingAndGlyphs">August</text>
<rect x="1167" y="621.20" width="1.0" height="17.800" fill="#02cffe"/>
<rect x="1358.500" y="621.20" width="19" height="17.800" fill="#02cffe"/>
<text x="760.6" y="635.28" font-size="13.4" fill="#252423" text-anchor="end" textLength="28.7" lengthAdjust="spacingAndGlyphs">2018</text>
<text x="861.9" y="635.28" font-size="13.4" fill="#252423" text-anchor="end" textLength="73.3" lengthAdjust="spacingAndGlyphs">1,174,317.21</text>
<text x="963.2" y="635.28" font-size="13.4" fill="#252423" text-anchor="end" textLength="73.3" lengthAdjust="spacingAndGlyphs">5,531,801.40</text>
<text x="1047.9" y="635.28" font-size="13.4" fill="#252423" text-anchor="end" textLength="42.5" lengthAdjust="spacingAndGlyphs">82.49%</text>
<text x="1149.6" y="635.28" font-size="13.4" fill="#252423" text-anchor="end" textLength="73.3" lengthAdjust="spacingAndGlyphs">6,706,118.61</text>
<text x="1244.8" y="635.28" font-size="13.4" fill="#252423" text-anchor="end" textLength="24.4" lengthAdjust="spacingAndGlyphs">0.03</text>
<text x="1346.7" y="635.28" font-size="13.4" fill="#252423" text-anchor="end" textLength="80.5" lengthAdjust="spacingAndGlyphs">51,710,047.04</text>
<text x="597.7" y="656.65" font-size="13.4" fill="#252423" textLength="28.7" lengthAdjust="spacingAndGlyphs">2024</text>
<text x="638.2" y="656.65" font-size="13.4" fill="#252423" textLength="27.2" lengthAdjust="spacingAndGlyphs">April</text>
<rect x="1167" y="642.75" width="1.0" height="17.800" fill="#02cffe"/>
<rect x="1358.500" y="642.75" width="19" height="17.800" fill="#02cffe"/>
<text x="760.6" y="656.65" font-size="13.4" fill="#252423" text-anchor="end" textLength="28.7" lengthAdjust="spacingAndGlyphs">1932</text>
<text x="861.9" y="656.65" font-size="13.4" fill="#252423" text-anchor="end" textLength="73.3" lengthAdjust="spacingAndGlyphs">1,147,718.54</text>
<text x="963.2" y="656.65" font-size="13.4" fill="#252423" text-anchor="end" textLength="73.3" lengthAdjust="spacingAndGlyphs">5,270,535.08</text>
<text x="1047.9" y="656.65" font-size="13.4" fill="#252423" text-anchor="end" textLength="42.5" lengthAdjust="spacingAndGlyphs">82.12%</text>
<text x="1149.6" y="656.65" font-size="13.4" fill="#252423" text-anchor="end" textLength="73.3" lengthAdjust="spacingAndGlyphs">6,418,253.62</text>
<text x="1244.8" y="656.65" font-size="13.4" fill="#252423" text-anchor="end" textLength="24.4" lengthAdjust="spacingAndGlyphs">0.01</text>
<text x="1346.7" y="656.65" font-size="13.4" fill="#252423" text-anchor="end" textLength="80.5" lengthAdjust="spacingAndGlyphs">25,091,122.39</text>
<text x="597.7" y="678.02" font-size="13.4" fill="#252423" textLength="28.7" lengthAdjust="spacingAndGlyphs">2024</text>
<text x="638.2" y="678.02" font-size="13.4" fill="#252423" textLength="36.9" lengthAdjust="spacingAndGlyphs">March</text>
<rect x="1167" y="664.30" width="2.0" height="17.800" fill="#02cffe"/>
<rect x="1358.500" y="664.30" width="19" height="17.800" fill="#02cffe"/>
<text x="760.6" y="678.02" font-size="13.4" fill="#252423" text-anchor="end" textLength="28.7" lengthAdjust="spacingAndGlyphs">1957</text>
<text x="861.9" y="678.02" font-size="13.4" fill="#252423" text-anchor="end" textLength="73.3" lengthAdjust="spacingAndGlyphs">1,134,840.24</text>
<text x="963.2" y="678.02" font-size="13.4" fill="#252423" text-anchor="end" textLength="73.3" lengthAdjust="spacingAndGlyphs">5,189,527.60</text>
<text x="1047.9" y="678.02" font-size="13.4" fill="#252423" text-anchor="end" textLength="42.5" lengthAdjust="spacingAndGlyphs">82.06%</text>
<text x="1149.6" y="678.02" font-size="13.4" fill="#252423" text-anchor="end" textLength="73.3" lengthAdjust="spacingAndGlyphs">6,324,367.84</text>
<text x="1244.8" y="678.02" font-size="13.4" fill="#252423" text-anchor="end" textLength="24.4" lengthAdjust="spacingAndGlyphs">0.10</text>
<text x="1346.7" y="678.02" font-size="13.4" fill="#252423" text-anchor="end" textLength="80.5" lengthAdjust="spacingAndGlyphs">18,672,868.77</text>
<text x="597.7" y="699.39" font-size="13.4" fill="#252423" textLength="28.7" lengthAdjust="spacingAndGlyphs">2024</text>
<text x="638.2" y="699.39" font-size="13.4" fill="#252423" textLength="51.7" lengthAdjust="spacingAndGlyphs">February</text>
<rect x="1163.71" y="685.85" width="2.99" height="17.800" fill="#f6a870"/>
<rect x="1358.500" y="685.85" width="19" height="17.800" fill="#02cffe"/>
<text x="760.6" y="699.39" font-size="13.4" fill="#252423" text-anchor="end" textLength="28.7" lengthAdjust="spacingAndGlyphs">1818</text>
<text x="861.9" y="699.39" font-size="13.4" fill="#252423" text-anchor="end" textLength="73.3" lengthAdjust="spacingAndGlyphs">1,058,338.49</text>
<text x="963.2" y="699.39" font-size="13.4" fill="#252423" text-anchor="end" textLength="73.3" lengthAdjust="spacingAndGlyphs">4,675,357.57</text>
<text x="1047.9" y="699.39" font-size="13.4" fill="#252423" text-anchor="end" textLength="42.5" lengthAdjust="spacingAndGlyphs">81.54%</text>
<text x="1149.6" y="699.39" font-size="13.4" fill="#252423" text-anchor="end" textLength="73.3" lengthAdjust="spacingAndGlyphs">5,733,696.06</text>
<text x="1244.8" y="699.39" font-size="13.4" fill="#252423" text-anchor="end" textLength="29.8" lengthAdjust="spacingAndGlyphs">-0.13</text>
<text x="1346.7" y="699.39" font-size="13.4" fill="#252423" text-anchor="end" textLength="80.5" lengthAdjust="spacingAndGlyphs">12,348,500.93</text>
<text x="597.7" y="720.76" font-size="13.4" fill="#252423" textLength="28.7" lengthAdjust="spacingAndGlyphs">2024</text>
<text x="638.2" y="720.76" font-size="13.4" fill="#252423" textLength="64.9" lengthAdjust="spacingAndGlyphs">September</text>
<rect x="1160.95" y="707.40" width="5.75" height="17.800" fill="#f6a870"/>
<rect x="1358.500" y="707.40" width="19" height="17.800" fill="#02cffe"/>
<text x="760.6" y="720.76" font-size="13.4" fill="#252423" text-anchor="end" textLength="28.7" lengthAdjust="spacingAndGlyphs">1492</text>
<text x="861.9" y="720.76" font-size="13.4" fill="#252423" text-anchor="end" textLength="63.3" lengthAdjust="spacingAndGlyphs">888,249.81</text>
<text x="963.2" y="720.76" font-size="13.4" fill="#252423" text-anchor="end" textLength="73.3" lengthAdjust="spacingAndGlyphs">4,149,441.31</text>
<text x="1047.9" y="720.76" font-size="13.4" fill="#252423" text-anchor="end" textLength="42.5" lengthAdjust="spacingAndGlyphs">82.37%</text>
<text x="1149.6" y="720.76" font-size="13.4" fill="#252423" text-anchor="end" textLength="73.3" lengthAdjust="spacingAndGlyphs">5,037,691.12</text>
<text x="1244.8" y="720.76" font-size="13.4" fill="#252423" text-anchor="end" textLength="29.8" lengthAdjust="spacingAndGlyphs">-0.25</text>
<text x="1346.7" y="720.76" font-size="13.4" fill="#252423" text-anchor="end" textLength="80.5" lengthAdjust="spacingAndGlyphs">56,747,738.16</text>
<path d="M1166.900,533.500V718M1358.500,533.500V718" stroke="#4a6fb0" stroke-width="1" stroke-dasharray="1 1" fill="none"/>
</g>
<path d="M588,533.500H1378M588,717.500H1378" stroke="#8f8f8f" stroke-width="1" fill="none"/>
<text x="595" y="734" font-size="13.4" fill="#252423" font-weight="bold" textLength="31" lengthAdjust="spacingAndGlyphs">Total</text>
<text x="760.6" y="734" font-size="13.4" fill="#252423" font-weight="bold" text-anchor="end" textLength="38.4" lengthAdjust="spacingAndGlyphs">20000</text>
<text x="861.9" y="734" font-size="13.4" fill="#252423" font-weight="bold" text-anchor="end" textLength="87.3" lengthAdjust="spacingAndGlyphs">11,307,638.53</text>
<text x="963.2" y="734" font-size="13.4" fill="#252423" font-weight="bold" text-anchor="end" textLength="87.3" lengthAdjust="spacingAndGlyphs">52,289,662.24</text>
<text x="1047.9" y="734" font-size="13.4" fill="#252423" font-weight="bold" text-anchor="end" textLength="45.9" lengthAdjust="spacingAndGlyphs">82.22%</text>
<text x="1149.6" y="734" font-size="13.4" fill="#252423" font-weight="bold" text-anchor="end" textLength="87.3" lengthAdjust="spacingAndGlyphs">63,597,300.77</text>
<text x="1244.8" y="734" font-size="13.4" fill="#252423" font-weight="bold" text-anchor="end" textLength="31.9" lengthAdjust="spacingAndGlyphs">-0.25</text>
<text x="1346.7" y="734" font-size="13.4" fill="#252423" font-weight="bold" text-anchor="end" textLength="87.3" lengthAdjust="spacingAndGlyphs">56,747,738.16</text>
<rect x="589.400" y="740.300" width="652" height="7" rx="3.500" fill="#adacaa"/>
<rect x="1379.400" y="507.500" width="7" height="79.700" rx="3.500" fill="#adacaa"/></svg>
</body></html>
